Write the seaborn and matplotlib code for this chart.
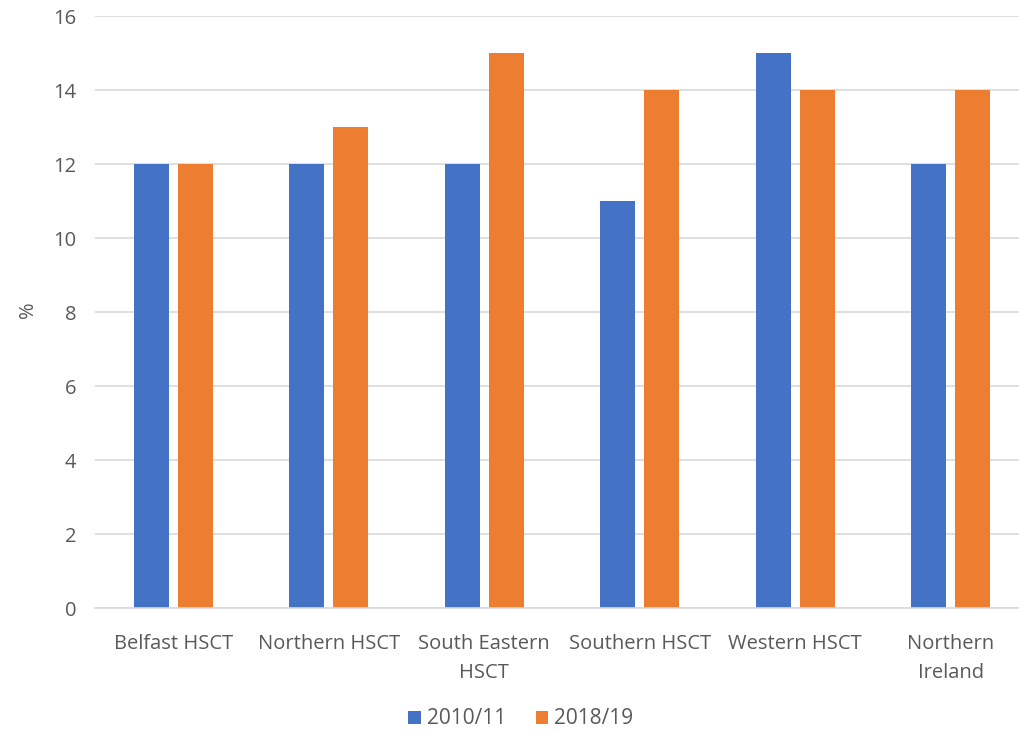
import matplotlib
matplotlib.use("Agg")
import matplotlib.pyplot as plt
import pandas as pd
import seaborn as sns

CATEGORIES = ["Belfast HSCT", "Northern HSCT", "South Eastern\nHSCT",
              "Southern HSCT", "Western HSCT", "Northern\nIreland"]
YEARS = ["2010/11", "2018/19"]
VALUES_2010 = [12, 12, 12, 11, 15, 12]
VALUES_2018 = [12, 13, 15, 14, 14, 14]
COLORS = ["#4472C4", "#ED7D31"]
TEXT_COLOR = "#595959"

df = pd.DataFrame({
    "category": CATEGORIES * 2,
    "year": [YEARS[0]] * len(CATEGORIES) + [YEARS[1]] * len(CATEGORIES),
    "value": VALUES_2010 + VALUES_2018,
})

sns.set_style("white")
plt.rcParams["font.family"] = ["Open Sans", "DejaVu Sans"]

fig = plt.figure(figsize=(10.2, 7.34), dpi=100)
# axes extends slightly past the right edge so the category slots match the reference
ax = fig.add_axes([95.5 / 1020, 1 - 608 / 734, 933 / 1020, 592 / 734])

sns.barplot(data=df, x="category", y="value", hue="year", palette=COLORS,
            width=0.566, gap=0.2, ax=ax, legend=True, saturation=1, linewidth=0)

ax.set_ylim(0, 16)
ax.set_xlim(-0.5, 5.5)
ax.set_yticks(range(0, 17, 2))
ax.yaxis.grid(True, color="#D9D9D9", linewidth=1.2)
ax.set_axisbelow(True)
sns.despine(ax=ax, left=True, top=True, right=True, bottom=False)
ax.spines["bottom"].set_color("#D9D9D9")
ax.spines["bottom"].set_linewidth(1.2)
ax.tick_params(axis="both", length=0, labelsize=14.5, colors=TEXT_COLOR)
ax.tick_params(axis="x", pad=19)
ax.tick_params(axis="y", pad=14)
for lbl in ax.get_xticklabels():
    lbl.set_linespacing(1.6)
ax.set_xlabel("")
ax.set_ylabel("")
fig.text(28 / 1020, 1 - 310 / 734, "%", rotation=90, fontsize=14.5,
         color=TEXT_COLOR, ha="center", va="center")

handles, labels = ax.get_legend_handles_labels()
ax.legend_.remove()
fig.legend(handles, labels, loc="center", bbox_to_anchor=(521 / 1020, 1 - 719 / 734),
           ncol=2, frameon=False, fontsize=15, labelcolor=TEXT_COLOR,
           handlelength=0.6, handleheight=0.6, handletextpad=0.3, columnspacing=1.4)

fig.savefig("out.png", dpi=100)
